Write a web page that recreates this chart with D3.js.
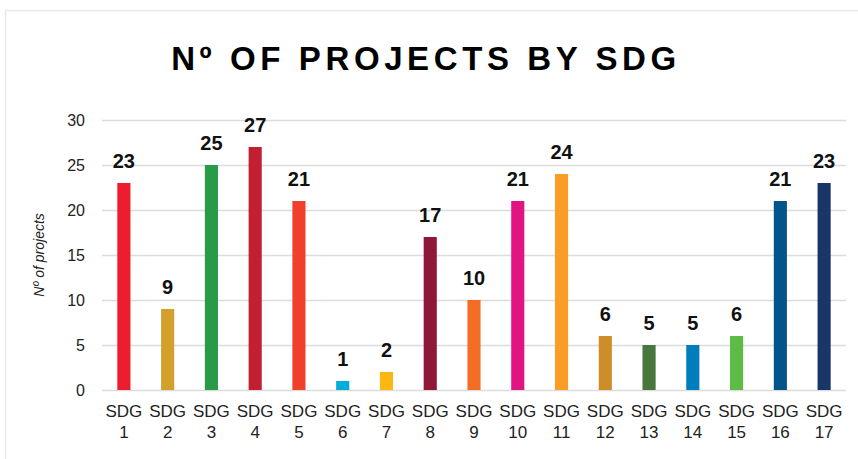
<!DOCTYPE html>
<html>
<head>
<meta charset="utf-8">
<script src="https://cdn.jsdelivr.net/npm/d3@7"></script>
<style>
  html, body { margin: 0; padding: 0; background: #fff; }
  svg { display: block; font-family: "Liberation Sans", Arial, sans-serif; }
</style>
</head>
<body>
<svg id="chart" width="858" height="459"></svg>
<script>
// Number of projects per Sustainable Development Goal
const goals = ["1","2","3","4","5","6","7","8","9","10","11","12","13","14","15","16","17"];
const projects = [23, 9, 25, 27, 21, 1, 2, 17, 10, 21, 24, 6, 5, 5, 6, 21, 23];
const goalColors = ["#ED1C2E","#D4A02C","#279B48","#C31F33","#EF402B","#00AED9","#FDB713",
                    "#8F1838","#F36D25","#E11484","#F99D26","#CF8D2A","#48773E","#007DBC",
                    "#5DBB46","#02558B","#183668"];
const yTicks = [0, 5, 10, 15, 20, 25, 30];

const svg = d3.select("#chart");
const W = 858, H = 459;
const plot = { left: 102, right: 846, top: 120, bottom: 390 };

// panel frame
svg.append("path")
  .attr("d", `M5.5,${H} V10.5 H${W}`)
  .attr("fill", "none").attr("stroke", "#e8e8e8").attr("stroke-width", 1.5);

// title
svg.append("text")
  .attr("x", 426).attr("y", 70)
  .attr("text-anchor", "middle")
  .attr("font-size", 33).attr("font-weight", "bold")
  .attr("letter-spacing", 4.6)
  .attr("fill", "#000")
  .text("Nº OF PROJECTS BY SDG");

const x = d3.scaleBand().domain(goals).range([plot.left, plot.right]).paddingInner(0.7).paddingOuter(0.35);
const y = d3.scaleLinear().domain([0, 30]).range([plot.bottom, plot.top]);

// horizontal gridlines and y tick labels
const yAxis = d3.axisLeft(y).tickValues(yTicks).tickSize(-(plot.right - plot.left)).tickPadding(17);
const gy = svg.append("g").attr("transform", `translate(${plot.left},0)`).call(yAxis);
gy.select(".domain").remove();
gy.selectAll(".tick line").attr("stroke", "#dcdcdc").attr("stroke-width", 1.5);
gy.selectAll(".tick text").attr("font-size", 16).attr("fill", "#222")
  .attr("font-family", "'Liberation Sans', Arial, sans-serif");

// y axis title
svg.append("text")
  .attr("transform", `translate(44,255) rotate(-90)`)
  .attr("text-anchor", "middle")
  .attr("font-size", 14).attr("font-style", "italic").attr("fill", "#222")
  .text("Nº of projects");

// bars
svg.append("g").selectAll("rect").data(goals).join("rect")
  .attr("x", d => x(d))
  .attr("width", x.bandwidth())
  .attr("y", (d, i) => y(projects[i]))
  .attr("height", (d, i) => y(0) - y(projects[i]))
  .attr("fill", (d, i) => goalColors[i]);

// value labels
svg.append("g").selectAll("text").data(goals).join("text")
  .attr("x", d => x(d) + x.bandwidth() / 2)
  .attr("y", (d, i) => y(projects[i]) - 15)
  .attr("text-anchor", "middle")
  .attr("font-size", 20).attr("font-weight", "bold").attr("fill", "#111")
  .text((d, i) => projects[i]);

// category labels on two lines
const xl = svg.append("g").selectAll("text").data(goals).join("text")
  .attr("text-anchor", "middle")
  .attr("font-size", 17).attr("fill", "#222");
xl.append("tspan").attr("x", d => x(d) + x.bandwidth() / 2).attr("y", 417).text("SDG");
xl.append("tspan").attr("x", d => x(d) + x.bandwidth() / 2).attr("y", 438).text(d => d);
</script>
</body>
</html>
